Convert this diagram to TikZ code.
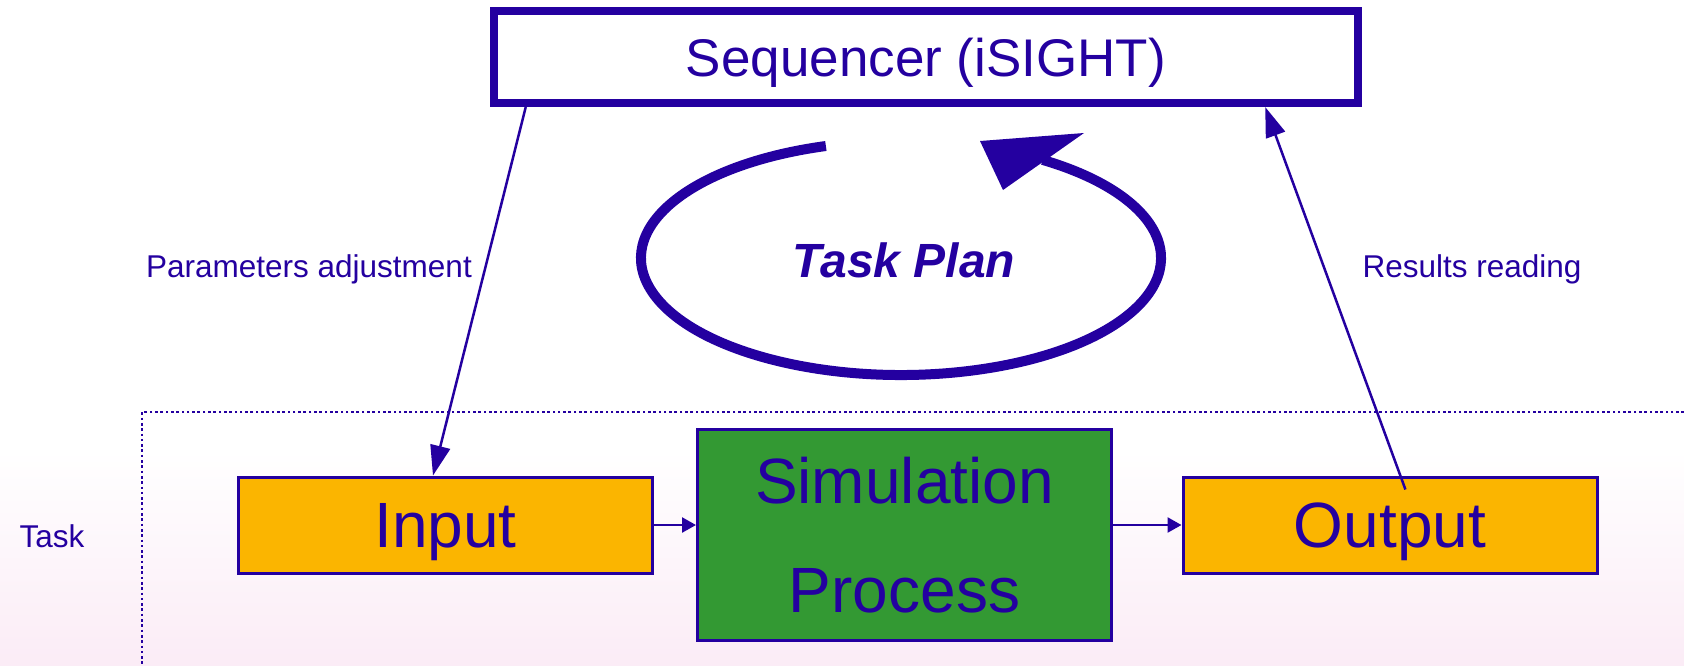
\documentclass[tikz,border=0pt]{standalone}
\usepackage{fontspec}
\setmainfont{Liberation Sans}
\usetikzlibrary{calc,arrows.meta}
\definecolor{ink}{RGB}{36,0,160}
\definecolor{boxorange}{RGB}{251,181,0}
\definecolor{boxgreen}{RGB}{51,153,51}
\definecolor{bgpink}{RGB}{251,236,246}
\begin{document}
\begin{tikzpicture}[x=1pt,y=-1pt,
  seqbox/.style={draw=ink, line width=8pt, fill=white, text=ink, font=\fontsize{53}{60}\selectfont, text depth=0pt, inner sep=0pt, minimum width=864pt, minimum height=92pt},
  stagebox/.style={draw=ink, line width=3pt, fill=boxorange, text=ink, font=\fontsize{64}{72}\selectfont, text depth=0pt, inner sep=0pt, minimum width=414pt, minimum height=96pt},
  simbox/.style={draw=ink, line width=3pt, fill=boxgreen, text=ink, font=\fontsize{64}{109}\selectfont, align=center, inner sep=0pt, minimum width=414pt, minimum height=211pt},
  conn/.style={draw=ink, line width=2.5pt},
  bigtip/.style={-{Triangle[length=30pt,width=20pt]}},
  smalltip/.style={-{Triangle[length=14pt,width=15pt]}},
  lbl/.style={text=ink, font=\fontsize{31.5}{36}\selectfont, anchor=base, inner sep=0pt},
  frame/.style={draw=ink, line width=2.6pt, dash pattern=on 2.6pt off 2.7pt},
]
\useasboundingbox (0,0) rectangle (1684,665);
\fill[white] (0,0) rectangle (1684,665);
\shade[top color=white, bottom color=bgpink] (0,450) rectangle (1684,665);

% dotted task frame
\draw[frame] (1684,412) -- (142,412) -- (142,665);

% nodes
\node[seqbox] (seq) at (926,57) {Sequencer (iSIGHT)};
\node[stagebox] (in) at (445.5,525) {Input};
\node[simbox] (sim) at (904.5,535) {Simulation\\Process};
\node[stagebox] (out) at (1390,525) {Output};

% labels
\node[lbl] (pa) at (309,277) {Parameters adjustment};
\node[lbl] (rr) at (1472,277) {Results reading};
\node[lbl] (task) at (52,547) {Task};
\node[text=ink, font=\bfseries\itshape\fontsize{48}{56}\selectfont, anchor=base, inner sep=0pt] (tp) at (904,277) {Task Plan};

% task plan loop
\draw[ink, line width=10pt] (901,258) ++(-106.8:260 and 117)
  arc[start angle=-106.8, end angle=-417, x radius=260, y radius=117];
\fill[ink] (980,141) -- (1084,133) -- (1003,190) -- cycle;

% connectors
\coordinate (seqA) at ($(seq.south west)!0.041!(seq.south east)$);
\coordinate (inA) at ($(in.north west)!0.47!(in.north east)$);
\coordinate (seqB) at ($(seq.south west)!0.889!(seq.south east)$);
\coordinate (outA) at ($(out.north west)!0.537!(out.north east)+(0,14)$);

\draw[conn, bigtip] (seqA) -- (inA);
\draw[conn, bigtip] (outA) -- (seqB);
\draw[conn, smalltip] (in.east) -- (in.east -| sim.west);
\draw[conn, smalltip] (out.west -| sim.east) -- (out.west);
\end{tikzpicture}
\end{document}
